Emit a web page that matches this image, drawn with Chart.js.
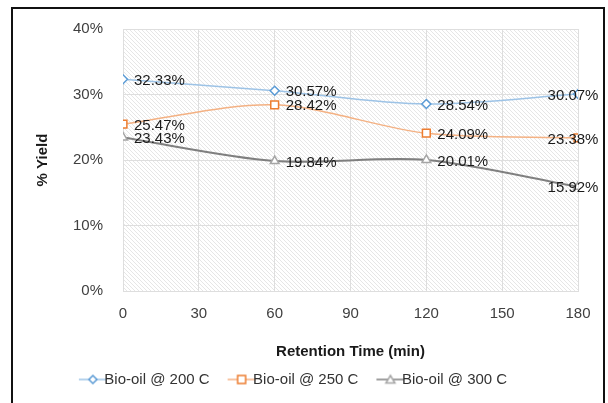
<!DOCTYPE html>
<html>
<head>
<meta charset="utf-8">
<script src="https://cdn.jsdelivr.net/npm/chart.js@4/dist/chart.umd.min.js"></script>
<style>
  html, body { margin: 0; padding: 0; background: #fff; }
  #wrap { position: relative; width: 608px; height: 403px; overflow: hidden; }
  #frame { position: absolute; left: 11px; top: 7px; width: 590px; height: 420px; border: 2px solid #111; pointer-events: none; }
</style>
</head>
<body>
<div id="wrap">
  <canvas id="chart" width="608" height="403"></canvas>
  <div id="frame"></div>
</div>
<script>
// values
var times = [0, 60, 120, 180];
var seriesNames = ['Bio-oil @ 200 C', 'Bio-oil @ 250 C', 'Bio-oil @ 300 C'];
var yield200 = [32.33, 30.57, 28.54, 30.07];
var yield250 = [25.47, 28.42, 24.09, 23.38];
var yield300 = [23.43, 19.84, 20.01, 15.92];
var yTicks = [0, 10, 20, 30, 40];
var xTicks = [0, 30, 60, 90, 120, 150, 180];

var FONT = 'Arial, "Liberation Sans", sans-serif';

function points(values) {
    return values.map(function (v, i) { return { x: times[i], y: v }; });
}

// diagonal hatch for the plot area
function hatch() {
    var c = document.createElement('canvas');
    c.width = 4; c.height = 4;
    var g = c.getContext('2d');
    g.fillStyle = '#ffffff';
    g.fillRect(0, 0, 4, 4);
    g.strokeStyle = '#e6e6e6';
    g.lineWidth = 1;
    g.beginPath();
    g.moveTo(-1, -1); g.lineTo(5, 5);
    g.moveTo(-1, 3); g.lineTo(1, 5);
    g.moveTo(3, -1); g.lineTo(5, 1);
    g.stroke();
    return c;
}

// legend glyph: line with marker in the middle, transparent on the left
function legendGlyph(lineColor, markColor, shape) {
    var c = document.createElement('canvas');
    c.width = 46; c.height = 14;
    var g = c.getContext('2d');
    var x0 = 18, x1 = 46, cx = 32, cy = 7;
    g.strokeStyle = lineColor;
    g.lineWidth = 1.5;
    g.beginPath(); g.moveTo(x0, cy); g.lineTo(x1, cy); g.stroke();
    g.fillStyle = '#fff';
    g.strokeStyle = markColor;
    g.lineWidth = 1.5;
    g.beginPath();
    if (shape === 'rectRot') {
        g.moveTo(cx, cy - 4); g.lineTo(cx + 4, cy); g.lineTo(cx, cy + 4); g.lineTo(cx - 4, cy); g.closePath();
    } else if (shape === 'rect') {
        g.rect(cx - 4, cy - 4, 8, 8);
    } else {
        g.moveTo(cx, cy - 4); g.lineTo(cx + 4.5, cy + 3.5); g.lineTo(cx - 4.5, cy + 3.5); g.closePath();
    }
    g.fill(); g.stroke();
    return c;
}

var lineColors = ['#9dc3e6', '#f4b183', '#7f7f7f'];
var markColors = ['#5b9bd5', '#ed7d31', '#a5a5a5'];
var shapes = ['rectRot', 'rect', 'triangle'];
var glyphs = [0, 1, 2].map(function (i) { return legendGlyph(lineColors[i], markColors[i], shapes[i]); });

var bgPlugin = {
    id: 'hatchBg',
    beforeDraw: function (chart) {
        var a = chart.chartArea, ctx = chart.ctx;
        ctx.save();
        ctx.fillStyle = ctx.createPattern(hatch(), 'repeat');
        ctx.fillRect(a.left, a.top, a.right - a.left, a.bottom - a.top);
        ctx.restore();
    }
};

var labelPlugin = {
    id: 'pointLabels',
    afterDatasetsDraw: function (chart) {
        var ctx = chart.ctx;
        ctx.save();
        ctx.font = '15px ' + FONT;
        ctx.fillStyle = '#1a1a1a';
        ctx.textBaseline = 'middle';
        chart.data.datasets.forEach(function (ds, di) {
            var meta = chart.getDatasetMeta(di);
            meta.data.forEach(function (pt, i) {
                var txt = ds.data[i].y.toFixed(2) + '%';
                if (i === meta.data.length - 1) {
                    ctx.textAlign = 'center';
                    ctx.fillText(txt, pt.x - 5, pt.y + 1.5);
                } else {
                    ctx.textAlign = 'left';
                    ctx.fillText(txt, pt.x + 11, pt.y + 1.5);
                }
            });
        });
        ctx.restore();
    }
};

function makeSet(i, values) {
    return {
        label: seriesNames[i],
        data: points(values),
        borderColor: lineColors[i],
        borderWidth: i === 2 ? 2 : 1.5,
        pointStyle: shapes[i],
        pointRadius: shapes[i] === 'rect' ? 5.5 : (shapes[i] === 'triangle' ? 5 : 4.5),
        pointBorderColor: markColors[i],
        pointBorderWidth: 1.5,
        pointBackgroundColor: '#ffffff',
        tension: 0.3,
        fill: false
    };
}

new Chart(document.getElementById('chart'), {
    type: 'line',
    data: {
        datasets: [makeSet(0, yield200), makeSet(1, yield250), makeSet(2, yield300)]
    },
    options: {
        responsive: false,
        animation: false,
        layout: { padding: { left: 0, right: 30, top: 19, bottom: 6 } },
        scales: {
            x: {
                type: 'linear',
                min: 0, max: 180,
                afterBuildTicks: function (s) { s.ticks = xTicks.map(function (v) { return { value: v }; }); },
                afterFit: function (s) { s.height = 71; },
                grid: { color: '#dedede', drawTicks: false },
                border: { color: '#dedede' },
                ticks: { padding: 14, color: '#404040', font: { size: 15, family: FONT } },
                title: {
                    display: true, text: 'Retention Time (min)', color: '#1a1a1a',
                    font: { size: 15, weight: 'bold', family: FONT }, padding: { top: 0, bottom: 1 }
                }
            },
            y: {
                min: 0, max: 40,
                afterBuildTicks: function (s) { s.ticks = yTicks.map(function (v) { return { value: v }; }); },
                afterFit: function (s) { s.width = 123; },
                grid: { color: '#dedede', drawTicks: false },
                border: { color: '#dedede' },
                ticks: {
                    padding: 20, color: '#404040', font: { size: 15, family: FONT },
                    callback: function (v) { return v + '%'; }
                },
                title: {
                    display: true, text: '% Yield', color: '#1a1a1a',
                    font: { size: 15, weight: 'bold', family: FONT }, padding: { top: 34, bottom: 0 }
                }
            }
        },
        plugins: {
            tooltip: { enabled: false },
            legend: {
                position: 'bottom',
                labels: {
                    usePointStyle: true,
                    pointStyleWidth: 26,
                    padding: 10,
                    color: '#333333',
                    font: { size: 15, family: FONT },
                    generateLabels: function (chart) {
                        var items = Chart.defaults.plugins.legend.labels.generateLabels(chart);
                        items.forEach(function (it, i) { it.pointStyle = glyphs[i]; });
                        return items;
                    }
                }
            }
        }
    },
    plugins: [bgPlugin, labelPlugin]
});
</script>
</body>
</html>
